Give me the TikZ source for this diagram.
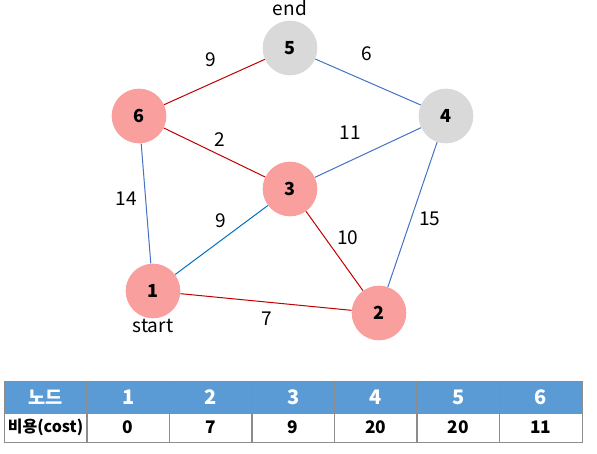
\documentclass[tikz,border=0pt]{standalone}
\usepackage{fontspec}
\setmainfont{Noto Sans CJK KR}
\usetikzlibrary{positioning}
\definecolor{nodepink}{HTML}{F9A09F}
\definecolor{nodegray}{HTML}{D9D9D9}
\definecolor{edgered}{HTML}{C00000}
\definecolor{edgeblue}{HTML}{4472C4}
\definecolor{edgecyan}{HTML}{0070C0}
\definecolor{headblue}{HTML}{5B9BD5}
\definecolor{tablegray}{HTML}{8C8C8C}

\begin{document}
\begin{tikzpicture}[
    x=0.75pt, y=-0.75pt,
    vtx/.style={circle, minimum size=41pt, inner sep=0pt, fill=#1, font=\fontsize{13.5}{16}\selectfont\bfseries},
    vtx/.default={nodepink},
    redge/.style={draw=edgered, line width=0.75pt},
    bedge/.style={draw=#1, line width=0.75pt},
    bedge/.default={edgeblue},
    lbl/.style={midway, inner sep=0pt, font=\fontsize{14.3}{17}\selectfont},
    txt/.style={inner sep=0pt, font=\fontsize{14.3}{17}\selectfont},
    headcell/.style={draw=tablegray, fill=headblue, text=white, line width=0.75pt, minimum width=61.9pt, minimum height=24pt, inner sep=0pt, outer sep=0pt, font=\fontsize{15}{18}\selectfont\bfseries},
    bodycell/.style={draw=tablegray, line width=0.75pt, minimum width=61.9pt, minimum height=21.75pt, inner sep=0pt, outer sep=0pt, font=\fontsize{13}{16}\selectfont\bfseries}
]
\useasboundingbox (0,0) rectangle (597,454);

% Graph nodes
\node[vtx] (n1) at (153,291) {1};
\node[vtx] (n2) at (379,313) {2};
\node[vtx] (n3) at (290,189) {3};
\node[vtx=nodegray] (n4) at (446,116) {4};
\node[vtx=nodegray] (n5) at (290,48) {5};
\node[vtx] (n6) at (139,116) {6};

\node[txt, above=3.4pt of n5] (endlbl) {end};
\node[txt, below=0.5pt of n1] (startlbl) {start};

% Edges
\draw[redge] (n6) -- (n5) node[lbl, xshift=-2.6pt, yshift=16.5pt] {9};
\draw[bedge] (n5) -- (n4) node[lbl, xshift=-0.8pt, yshift=21pt] {6};
\draw[redge] (n6) -- (n3) node[lbl, xshift=3.8pt, yshift=9.4pt] {2};
\draw[bedge] (n3) -- (n4) node[lbl, xshift=-13.5pt, yshift=14.5pt] {11};
\draw[bedge] (n6) -- (n1) node[lbl, xshift=-15pt, yshift=3.8pt] {14};
\draw[bedge=edgecyan] (n1) -- (n3) node[lbl, xshift=-0.8pt, yshift=14.6pt] {9};
\draw[redge] (n3) -- (n2) node[lbl, xshift=10pt, yshift=9.8pt] {10};
\draw[bedge] (n4) -- (n2) node[lbl, xshift=13pt, yshift=-3.4pt] {15};
\draw[redge] (n1) -- (n2) node[lbl, xshift=0.6pt, yshift=-12.4pt] {7};

% Cost table
\node[headcell, minimum width=62.25pt, font=\fontsize{14}{17}\selectfont\bfseries] (h0) at (45.5,397) {노드};
\node[bodycell, minimum width=62.25pt, font=\fontsize{12}{15}\selectfont\bfseries] (b0) at (45.5,427.5) {비용(cost)};
\foreach \i/\c in {1/0,2/7,3/9,4/20,5/20,6/11} {
  \node[headcell] (h\i) at ({87+82.5*(\i-0.5)},397) {\i};
  \node[bodycell] (b\i) at ({87+82.5*(\i-0.5)},427.5) {\c};
}

\end{tikzpicture}
\end{document}
